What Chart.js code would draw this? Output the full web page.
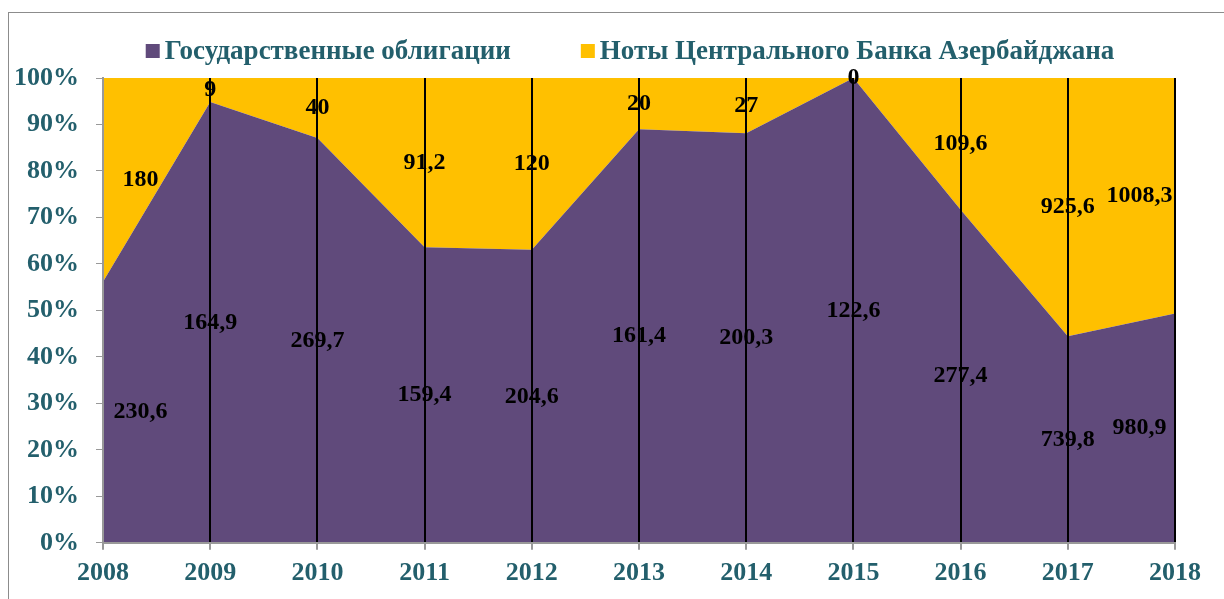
<!DOCTYPE html>
<html>
<head>
<meta charset="utf-8">
<script src="https://cdn.jsdelivr.net/npm/chart.js@4.4.1/dist/chart.umd.min.js"></script>
<style>
  html, body { margin: 0; padding: 0; background: #fff; overflow: hidden; }
  #frame { position: absolute; left: 8px; top: 12px; width: 1240px; height: 620px; border: 1.5px solid #8c8c8c; }
  #wrap { position: absolute; left: 0; top: 0; width: 1224px; height: 599px; }
</style>
</head>
<body>
<div id="frame"></div>
<div id="wrap"><canvas id="chart_1"></canvas></div>
<script>
const years = ['2008', '2009', '2010', '2011', '2012', '2013', '2014', '2015', '2016', '2017', '2018'];
const bonds = [230.6, 164.9, 269.7, 159.4, 204.6, 161.4, 200.3, 122.6, 277.4, 739.8, 980.9];
const notes = [180, 9, 40, 91.2, 120, 20, 27, 0, 109.6, 925.6, 1008.3];
const series_names = ['Государственные облигации', 'Ноты Центрального Банка Азербайджана'];
const series_colors = ['#604a7b', '#ffc000'];

const teal = '#235f6c';
const font_name = '"Liberation Serif", "Times New Roman", serif';

// 100% stacked shares
const bonds_pct = bonds.map((v, i) => v / (v + notes[i]) * 100);
const notes_pct = notes.map((v, i) => v / (bonds[i] + v) * 100);
const raw_values = [bonds, notes];

function fmt(v) {
    return String(v).replace('.', ',');
}

// value labels in the middle of each band
const valueLabels = {
    id: 'valueLabels',
    afterDatasetsDraw(chart) {
        const ctx = chart.ctx;
        const yScale = chart.scales.y;
        const step = chart.scales.x.getPixelForValue(1) - chart.scales.x.getPixelForValue(0);
        ctx.save();
        ctx.font = 'bold 24px ' + font_name;
        ctx.fillStyle = '#000';
        ctx.textAlign = 'center';
        ctx.textBaseline = 'middle';
        chart.data.datasets.forEach((ds, d) => {
            const meta = chart.getDatasetMeta(d);
            meta.data.forEach((pt, i) => {
                let base = 0;
                for (let k = 0; k < d; k++) base += chart.data.datasets[k].data[i];
                const top = base + ds.data[i];
                let y = yScale.getPixelForValue((base + top) / 2);
                let x = pt.x;
                if (i === 0) x += step * 0.35;
                if (i === years.length - 1) x -= step * 0.33;
                ctx.fillText(fmt(raw_values[d][i]), x, y);
            });
        });
        ctx.restore();
    }
};

// legend drawn by hand (Excel style: small square, wide gap between items)
const topLegend = {
    id: 'topLegend',
    afterDraw(chart) {
        const ctx = chart.ctx;
        ctx.save();
        ctx.font = 'bold 27px ' + font_name;
        ctx.textBaseline = 'middle';
        const box = 14, gap = 5, between = 70;
        const widths = chart.data.datasets.map(ds => ctx.measureText(ds.label).width);
        let total = 0;
        widths.forEach((w, i) => { total += box + gap + w + (i > 0 ? between : 0); });
        let x = 630 - total / 2;
        const y = 51;
        chart.data.datasets.forEach((ds, i) => {
            ctx.fillStyle = ds.backgroundColor;
            ctx.fillRect(x, y - box / 2, box, box);
            x += box + gap;
            ctx.fillStyle = teal;
            ctx.textAlign = 'left';
            ctx.fillText(ds.label, x, y + 1);
            x += widths[i] + between;
        });
        ctx.restore();
    }
};

var ctx = document.getElementById('chart_1').getContext('2d');
var myAreaChart = new Chart(ctx, {
    type: 'line',
    data: {
        labels: years,
        datasets: [{
            label: series_names[0],
            data: bonds_pct,
            backgroundColor: series_colors[0],
            borderColor: series_colors[0],
            borderWidth: 0,
            pointRadius: 0,
            fill: 'origin'
        }, {
            label: series_names[1],
            data: notes_pct,
            backgroundColor: series_colors[1],
            borderColor: series_colors[1],
            borderWidth: 0,
            pointRadius: 0,
            fill: '-1'
        }]
    },
    options: {
        responsive: true,
        maintainAspectRatio: false,
        animation: false,
        layout: { padding: { top: 78, left: -3, right: 49, bottom: 2 } },
        plugins: {
            tooltip: { enabled: false },
            legend: { display: false }
        },
        scales: {
            x: {
                offset: false,
                border: { color: '#999', width: 2, z: 1 },
                grid: {
                    z: 1,
                    color: (c) => c.index === 0 ? '#999' : '#000',
                    lineWidth: 2,
                    tickColor: '#999',
                    tickLength: 7
                },
                ticks: {
                    color: teal,
                    padding: 8,
                    maxRotation: 0,
                    font: { family: font_name, size: 26, weight: 'bold' }
                }
            },
            y: {
                stacked: true,
                min: 0,
                max: 100,
                border: { color: '#999', width: 2, z: 1 },
                grid: {
                    drawOnChartArea: false,
                    color: '#999',
                    tickLength: 7
                },
                ticks: {
                    stepSize: 10,
                    color: teal,
                    padding: 17,
                    font: { family: font_name, size: 26, weight: 'bold' },
                    callback: (v) => v + '%'
                }
            }
        }
    },
    plugins: [valueLabels, topLegend]
});
</script>
</body>
</html>
